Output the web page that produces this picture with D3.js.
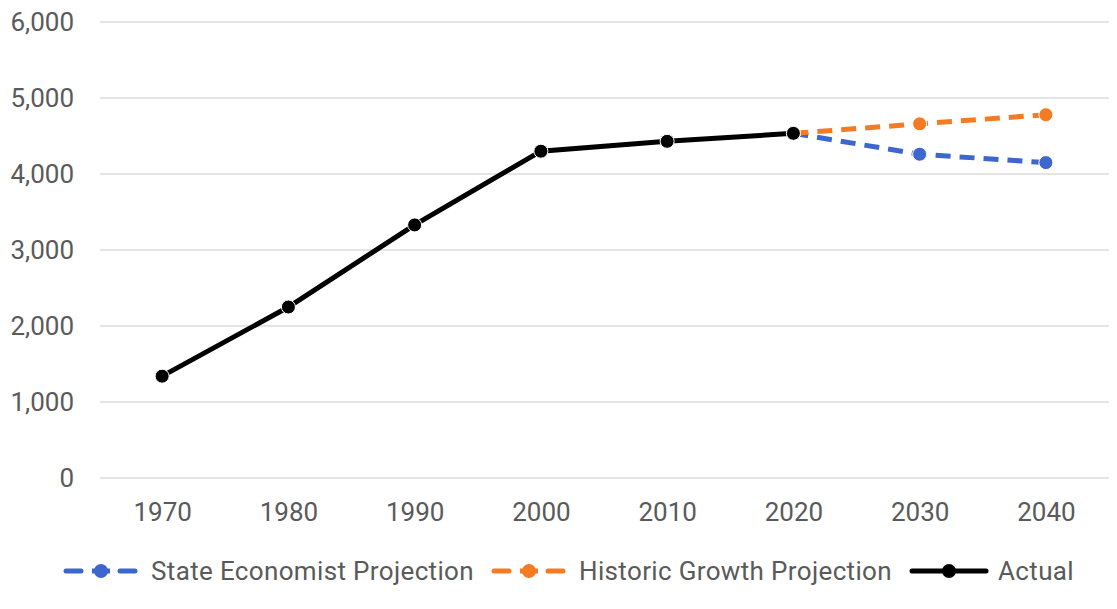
<!DOCTYPE html>
<html><head><meta charset="utf-8">
<script src="https://cdn.jsdelivr.net/npm/d3@7"></script>
<style>html,body{margin:0;padding:0;background:#fff;}svg{display:block;font-family:Roboto,sans-serif;}</style>
</head><body>
<svg id="chart" width="1117" height="609"></svg>
<script>
const years = ["1970","1980","1990","2000","2010","2020","2030","2040"];
const actual = [1340, 2250, 3330, 4300, 4430, 4535, null, null];
const stateProj = [null, null, null, null, null, 4535, 4260, 4150];
const historicProj = [null, null, null, null, null, 4535, 4660, 4780];
const yTicks = [0, 1000, 2000, 3000, 4000, 5000, 6000];
const seriesNames = ["State Economist Projection", "Historic Growth Projection", "Actual"];

const svg = d3.select("#chart");
const W = 1117, H = 609;
const m = {left: 99, right: 8, top: 22, bottom: 131};
const x = d3.scalePoint().domain(years).range([m.left, W - m.right]).padding(0.5);
const y = d3.scaleLinear().domain([0, 6000]).range([H - m.bottom, m.top]);
const textColor = "#5a5a5a";

// gridlines
svg.append("g").selectAll("line").data(yTicks).join("line")
  .attr("x1", m.left + 1).attr("x2", W - m.right)
  .attr("y1", d => y(d)).attr("y2", d => y(d))
  .attr("stroke", "#dcdcdc").attr("stroke-width", 1.5);

// y axis
const yAxis = d3.axisLeft(y).tickValues(yTicks).tickFormat(d3.format(",")).tickSize(0).tickPadding(0);
const gy = svg.append("g").attr("transform", "translate(74,0)").call(yAxis);
gy.select(".domain").remove();
gy.selectAll("text").attr("font-size", 26).attr("fill", textColor).attr("font-family", "Roboto");

// x axis
const xAxis = d3.axisBottom(x).tickSize(0).tickPadding(0);
const gx = svg.append("g").attr("transform", `translate(0,${H - m.bottom})`).call(xAxis);
gx.select(".domain").remove();
gx.selectAll("text").attr("font-size", 26).attr("fill", textColor).attr("font-family", "Roboto")
  .attr("dy", null).attr("y", 43);

const series = [
  {name: seriesNames[0], values: stateProj, color: "#3d67cc", dash: "15,9"},
  {name: seriesNames[1], values: historicProj, color: "#f57a24", dash: "15,9"},
  {name: seriesNames[2], values: actual, color: "#000000", dash: null}
];

const line = d3.line().defined(d => d.v != null).x(d => x(d.k)).y(d => y(d.v));
series.forEach(s => {
  const data = years.map((k, i) => ({k, v: s.values[i]}));
  svg.append("path").datum(data).attr("d", line).attr("fill", "none")
    .attr("stroke", s.color).attr("stroke-width", 5)
    .attr("stroke-dasharray", s.dash);
  svg.append("g").selectAll("circle").data(data.filter(d => d.v != null)).join("circle")
    .attr("cx", d => x(d.k)).attr("cy", d => y(d.v)).attr("r", 7)
    .attr("fill", s.color).attr("stroke", "#fff").attr("stroke-width", 1);
});

// legend
const legY = 571;
const lg = svg.append("g");
const items = series.map((s, i) => {
  const g = lg.append("g");
  let tx;
  if (s.dash) {
    g.append("line").attr("x1", 2).attr("x2", 17).attr("y1", legY).attr("y2", legY)
      .attr("stroke", s.color).attr("stroke-width", 5).attr("stroke-linecap", "round");
    g.append("line").attr("x1", 56).attr("x2", 71).attr("y1", legY).attr("y2", legY)
      .attr("stroke", s.color).attr("stroke-width", 5).attr("stroke-linecap", "round");
    g.append("line").attr("x1", 28).attr("x2", 46).attr("y1", legY).attr("y2", legY)
      .attr("stroke", s.color).attr("stroke-width", 5);
    g.append("circle").attr("cx", 37).attr("cy", legY).attr("r", 7).attr("fill", s.color);
    tx = 87;
  } else {
    g.append("line").attr("x1", 2).attr("x2", 76).attr("y1", legY).attr("y2", legY)
      .attr("stroke", s.color).attr("stroke-width", 5).attr("stroke-linecap", "round");
    g.append("circle").attr("cx", 39).attr("cy", legY).attr("r", 7).attr("fill", s.color);
    tx = 88;
  }
  const t = g.append("text").attr("x", tx).attr("y", legY).attr("dy", "0.35em")
    .attr("font-size", 26).attr("letter-spacing", 0.35).attr("fill", textColor).text(s.name);
  return {g, w: tx + t.node().getComputedTextLength()};
});
const gap = 18;
const total = d3.sum(items, d => d.w) + gap * (items.length - 1);
let cx = 569 - total / 2;
items.forEach(it => { it.g.attr("transform", `translate(${cx},0)`); cx += it.w + gap; });
</script>
</body></html>
